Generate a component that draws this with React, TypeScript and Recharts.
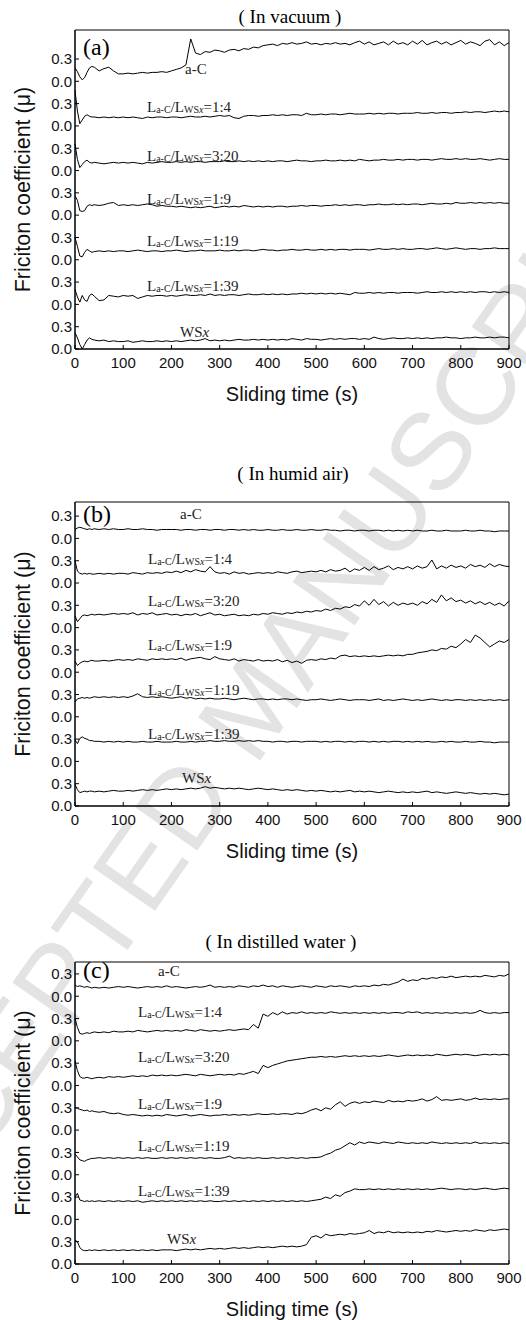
import React from "react";
import { LineChart, Line, XAxis, YAxis, ReferenceArea } from "recharts";

// Sliding time (s)
const T = [0,5,10,15,20,25,30,35,40,50,60,70,80,90,100,110,120,130,140,150,160,170,180,190,200,210,220,230,240,250,260,270,280,290,300,310,320,330,340,350,360,370,380,390,400,410,420,430,440,450,460,470,480,490,500,510,520,530,540,550,560,570,580,590,600,610,620,630,640,650,660,670,680,690,700,710,720,730,740,750,760,770,780,790,800,810,820,830,840,850,860,870,880,890,900];

const X_TICKS = [0,100,200,300,400,500,600,700,800,900];
const Y_TICKS = [0,0.3,0.6,0.9,1.2,1.5,1.8,2.1,2.4,2.7,3.0,3.3,3.6,3.9];
const BAND = 0.6;

const TRACE_NAMES = ["a-C", "1:4", "3:20", "1:9", "1:19", "1:39", "WSx"];
const PANEL_TITLES = ["( In vacuum )", "( In humid air)", "( In distilled water )"];
const PANEL_TAGS = ["(a)", "(b)", "(c)"];
const WATERMARK = "ACCEPTED MANUSCRIPT";

// ---- (a) In vacuum ----
const vacAC = [0.18,0.13,0.06,0.02,0.05,0.12,0.18,0.20,0.19,
0.14,0.17,0.19,0.14,0.10,
0.10,0.11,0.10,0.11,0.12,0.11,0.12,0.12,0.13,0.12,
0.14,0.16,0.18,0.22,0.57,0.38,0.36,0.40,0.39,0.42,
0.41,0.39,0.42,0.43,0.41,0.44,0.43,0.46,0.45,0.48,
0.49,0.50,0.48,0.51,0.50,0.52,0.50,0.51,0.53,0.50,
0.51,0.49,0.51,0.50,0.52,0.50,0.51,0.49,0.52,0.54,
0.50,0.53,0.49,0.51,0.53,0.49,0.54,0.50,0.52,0.49,
0.54,0.50,0.55,0.49,0.52,0.54,0.50,0.53,0.49,0.52,
0.55,0.50,0.53,0.51,0.48,0.54,0.56,0.49,0.53,0.48,
0.52];
const vac14 = [0.48,0.20,0.03,0.08,0.13,0.15,0.13,0.12,0.12,
0.11,0.12,0.11,0.12,0.11,
0.12,0.11,0.12,0.11,0.10,0.12,0.11,0.12,0.12,0.11,
0.12,0.12,0.11,0.12,0.13,0.12,0.12,0.13,0.12,0.13,
0.14,0.13,0.14,0.11,0.10,0.13,0.14,0.14,0.13,0.14,
0.14,0.15,0.14,0.15,0.14,0.15,0.15,0.14,0.17,0.15,
0.15,0.16,0.15,0.16,0.16,0.15,0.16,0.17,0.16,0.16,
0.16,0.17,0.16,0.17,0.16,0.17,0.17,0.16,0.17,0.17,
0.17,0.18,0.17,0.17,0.18,0.17,0.18,0.18,0.17,0.18,
0.18,0.19,0.18,0.19,0.19,0.18,0.19,0.20,0.19,0.20,
0.19];
const vac320 = [0.36,0.15,0.04,0.08,0.12,0.14,0.11,0.10,0.11,
0.10,0.09,0.10,0.11,0.10,
0.11,0.10,0.11,0.10,0.09,0.11,0.10,0.11,0.12,0.11,
0.11,0.12,0.11,0.12,0.11,0.12,0.12,0.11,0.12,0.12,
0.12,0.13,0.12,0.12,0.13,0.12,0.13,0.12,0.13,0.12,
0.13,0.12,0.13,0.13,0.12,0.13,0.14,0.13,0.13,0.12,
0.13,0.13,0.14,0.13,0.13,0.14,0.13,0.14,0.13,0.15,
0.14,0.13,0.14,0.14,0.15,0.14,0.14,0.15,0.14,0.15,
0.15,0.14,0.15,0.15,0.14,0.15,0.16,0.15,0.15,0.16,
0.15,0.16,0.15,0.15,0.16,0.15,0.14,0.15,0.16,0.15,
0.15];
const vac19 = [0.26,0.20,0.06,0.05,0.06,0.12,0.14,0.13,0.14,
0.13,0.14,0.16,0.17,0.13,
0.14,0.13,0.14,0.13,0.14,0.15,0.14,0.12,0.13,0.12,
0.12,0.11,0.12,0.11,0.10,0.11,0.10,0.11,0.12,0.10,
0.11,0.12,0.11,0.12,0.11,0.13,0.12,0.11,0.12,0.11,
0.12,0.11,0.12,0.12,0.11,0.12,0.12,0.13,0.12,0.13,
0.13,0.12,0.13,0.13,0.14,0.13,0.14,0.13,0.14,0.14,
0.13,0.14,0.14,0.15,0.14,0.14,0.15,0.14,0.15,0.14,
0.15,0.15,0.14,0.15,0.16,0.15,0.15,0.16,0.15,0.17,
0.16,0.16,0.17,0.16,0.17,0.16,0.17,0.16,0.17,0.16,
0.16];
const vac119 = [0.30,0.18,0.05,0.04,0.10,0.14,0.12,0.10,0.11,
0.12,0.11,0.12,0.11,0.12,
0.12,0.11,0.12,0.13,0.12,0.11,0.12,0.12,0.11,0.12,
0.12,0.13,0.12,0.11,0.12,0.12,0.13,0.12,0.12,0.12,
0.13,0.12,0.12,0.13,0.12,0.13,0.13,0.12,0.13,0.14,
0.13,0.13,0.12,0.13,0.13,0.14,0.13,0.13,0.14,0.13,
0.13,0.14,0.13,0.14,0.13,0.14,0.14,0.13,0.14,0.14,
0.14,0.13,0.14,0.15,0.14,0.14,0.15,0.14,0.15,0.14,
0.14,0.15,0.15,0.14,0.15,0.16,0.15,0.14,0.15,0.16,
0.15,0.14,0.15,0.15,0.14,0.15,0.15,0.16,0.15,0.15,
0.15];
const vac139 = [0.20,0.10,0.03,0.12,0.06,0.04,0.12,0.14,0.11,
0.05,0.06,0.12,0.11,0.10,
0.12,0.11,0.12,0.08,0.10,0.12,0.11,0.12,0.12,0.11,
0.12,0.11,0.12,0.13,0.12,0.12,0.13,0.12,0.14,0.12,
0.13,0.12,0.13,0.13,0.12,0.13,0.14,0.13,0.13,0.14,
0.13,0.14,0.13,0.14,0.13,0.14,0.14,0.15,0.14,0.15,
0.14,0.15,0.14,0.15,0.14,0.15,0.14,0.13,0.16,0.15,
0.15,0.16,0.15,0.16,0.15,0.16,0.16,0.15,0.16,0.16,
0.16,0.15,0.16,0.17,0.16,0.16,0.17,0.16,0.17,0.16,
0.17,0.16,0.17,0.16,0.17,0.17,0.16,0.17,0.16,0.17,
0.16];
const vacWS = [0.22,0.15,0.06,0.00,0.06,0.12,0.15,0.13,0.12,
0.11,0.12,0.10,0.11,0.10,
0.10,0.11,0.09,0.10,0.11,0.10,0.10,0.11,0.10,0.11,
0.10,0.11,0.10,0.11,0.12,0.11,0.12,0.14,0.11,0.12,
0.11,0.12,0.11,0.12,0.13,0.12,0.12,0.13,0.12,0.13,
0.12,0.13,0.12,0.13,0.12,0.14,0.13,0.12,0.14,0.13,
0.13,0.12,0.13,0.14,0.13,0.14,0.13,0.14,0.14,0.13,
0.14,0.13,0.16,0.14,0.13,0.14,0.15,0.14,0.14,0.15,
0.14,0.15,0.14,0.15,0.14,0.15,0.15,0.16,0.15,0.15,
0.14,0.15,0.15,0.16,0.15,0.15,0.16,0.15,0.16,0.16,
0.15];

// ---- (b) In humid air ----
const humAC = [0.12,0.14,0.15,0.14,0.13,0.12,0.13,0.12,0.13,
0.12,0.13,0.12,0.13,0.12,
0.12,0.13,0.12,0.12,0.13,0.12,0.12,0.11,0.12,0.12,
0.12,0.12,0.11,0.12,0.12,0.11,0.12,0.12,0.11,0.12,
0.12,0.11,0.12,0.12,0.11,0.12,0.11,0.12,0.11,0.11,
0.12,0.11,0.11,0.12,0.11,0.11,0.12,0.11,0.11,0.12,
0.11,0.11,0.12,0.11,0.11,0.10,0.11,0.11,0.10,0.11,
0.11,0.10,0.11,0.11,0.10,0.11,0.10,0.11,0.10,0.11,
0.10,0.11,0.10,0.10,0.11,0.10,0.10,0.11,0.10,0.10,
0.10,0.11,0.10,0.10,0.11,0.10,0.10,0.09,0.10,0.10,
0.10];
const hum14 = [0.30,0.16,0.13,0.12,0.13,0.12,0.13,0.12,0.12,
0.13,0.12,0.13,0.12,0.13,
0.13,0.12,0.14,0.13,0.12,0.14,0.13,0.14,0.13,0.15,
0.14,0.16,0.14,0.17,0.15,0.18,0.16,0.15,0.22,0.15,
0.13,0.14,0.12,0.15,0.13,0.14,0.12,0.13,0.14,0.13,
0.14,0.13,0.15,0.14,0.13,0.15,0.16,0.14,0.15,0.16,
0.15,0.17,0.15,0.18,0.16,0.17,0.20,0.15,0.19,0.17,
0.21,0.17,0.22,0.18,0.20,0.23,0.18,0.21,0.19,0.22,
0.19,0.23,0.20,0.22,0.31,0.19,0.23,0.20,0.24,0.21,
0.23,0.20,0.25,0.22,0.24,0.21,0.26,0.22,0.25,0.23,
0.22];
const hum320 = [0.16,0.08,0.12,0.16,0.17,0.16,0.17,0.18,0.17,
0.18,0.17,0.18,0.19,0.18,
0.19,0.18,0.20,0.17,0.19,0.18,0.20,0.17,0.18,0.19,
0.17,0.18,0.16,0.18,0.17,0.19,0.16,0.18,0.20,0.17,
0.18,0.16,0.17,0.18,0.16,0.17,0.16,0.18,0.17,0.19,
0.18,0.20,0.19,0.18,0.20,0.19,0.21,0.20,0.22,0.21,
0.23,0.22,0.25,0.23,0.26,0.25,0.28,0.27,0.31,0.29,
0.36,0.30,0.38,0.31,0.35,0.29,0.34,0.30,0.33,0.31,
0.33,0.30,0.35,0.32,0.38,0.34,0.44,0.36,0.40,0.35,
0.37,0.33,0.36,0.32,0.35,0.31,0.34,0.30,0.33,0.29,
0.36];
const hum19 = [0.15,0.09,0.12,0.14,0.15,0.14,0.15,0.16,0.15,
0.15,0.16,0.15,0.16,0.17,
0.16,0.17,0.16,0.18,0.17,0.16,0.18,0.17,0.18,0.17,
0.18,0.17,0.19,0.16,0.18,0.19,0.20,0.18,0.17,0.21,
0.18,0.17,0.16,0.18,0.15,0.17,0.16,0.15,0.17,0.15,
0.16,0.15,0.17,0.14,0.16,0.13,0.15,0.12,0.16,0.17,
0.16,0.18,0.17,0.19,0.18,0.22,0.23,0.21,0.22,0.21,
0.22,0.21,0.22,0.21,0.22,0.23,0.22,0.23,0.22,0.24,
0.24,0.26,0.27,0.28,0.30,0.29,0.32,0.31,0.35,0.33,
0.38,0.44,0.40,0.50,0.46,0.40,0.34,0.38,0.42,0.40,
0.44];
const hum119 = [0.20,0.24,0.25,0.26,0.25,0.26,0.25,0.26,0.27,
0.26,0.27,0.26,0.27,0.26,
0.27,0.26,0.28,0.31,0.27,0.26,0.27,0.26,0.27,0.26,
0.25,0.26,0.27,0.25,0.26,0.24,0.25,0.24,0.25,0.24,
0.24,0.25,0.24,0.23,0.24,0.25,0.24,0.23,0.24,0.24,
0.23,0.24,0.23,0.24,0.24,0.23,0.24,0.23,0.22,0.23,
0.23,0.24,0.23,0.22,0.23,0.24,0.23,0.22,0.23,0.23,
0.23,0.22,0.23,0.24,0.22,0.23,0.22,0.23,0.24,0.23,
0.22,0.23,0.22,0.23,0.24,0.23,0.22,0.23,0.22,0.23,
0.23,0.22,0.23,0.22,0.23,0.22,0.23,0.22,0.23,0.22,
0.23];
const hum139 = [0.29,0.24,0.31,0.33,0.31,0.30,0.28,0.28,0.27,
0.27,0.26,0.27,0.26,0.27,
0.26,0.27,0.26,0.26,0.27,0.26,0.26,0.27,0.26,0.26,
0.26,0.27,0.26,0.26,0.27,0.26,0.27,0.27,0.28,0.27,
0.27,0.28,0.27,0.27,0.28,0.27,0.28,0.27,0.28,0.27,
0.27,0.26,0.27,0.27,0.26,0.27,0.27,0.26,0.27,0.27,
0.27,0.26,0.27,0.26,0.27,0.27,0.26,0.27,0.26,0.27,
0.27,0.26,0.27,0.26,0.27,0.26,0.27,0.27,0.26,0.27,
0.26,0.27,0.26,0.27,0.26,0.26,0.27,0.26,0.27,0.26,
0.26,0.27,0.26,0.26,0.27,0.26,0.26,0.25,0.26,0.26,
0.26];
const humWS = [0.29,0.22,0.18,0.19,0.20,0.19,0.20,0.20,0.19,
0.20,0.19,0.20,0.21,0.20,
0.20,0.21,0.20,0.21,0.22,0.21,0.22,0.21,0.22,0.23,
0.22,0.23,0.22,0.23,0.24,0.23,0.24,0.26,0.24,0.25,
0.24,0.23,0.24,0.23,0.24,0.23,0.22,0.23,0.24,0.23,
0.22,0.23,0.22,0.21,0.22,0.21,0.22,0.21,0.20,0.21,
0.20,0.21,0.20,0.19,0.20,0.19,0.20,0.21,0.19,0.20,
0.19,0.20,0.19,0.18,0.19,0.20,0.19,0.18,0.19,0.18,
0.19,0.18,0.19,0.20,0.18,0.19,0.18,0.17,0.18,0.19,
0.18,0.17,0.18,0.17,0.16,0.17,0.16,0.17,0.16,0.15,
0.16];

// ---- (c) In distilled water ----
const watAC = [0.15,0.13,0.14,0.13,0.12,0.13,0.12,0.11,0.12,
0.11,0.12,0.11,0.12,0.13,
0.12,0.13,0.12,0.11,0.12,0.13,0.12,0.13,0.12,0.14,
0.12,0.13,0.12,0.11,0.12,0.13,0.12,0.13,0.15,0.12,
0.13,0.12,0.13,0.12,0.14,0.13,0.12,0.14,0.13,0.15,
0.13,0.14,0.12,0.14,0.13,0.12,0.13,0.14,0.13,0.12,
0.14,0.13,0.12,0.14,0.13,0.14,0.13,0.12,0.14,0.13,
0.14,0.13,0.15,0.14,0.16,0.15,0.17,0.19,0.23,0.20,
0.22,0.21,0.24,0.23,0.25,0.24,0.26,0.25,0.27,0.25,
0.26,0.27,0.26,0.27,0.26,0.28,0.27,0.26,0.28,0.27,
0.30];
const wat14 = [0.30,0.18,0.10,0.09,0.10,0.11,0.10,0.11,0.12,
0.11,0.12,0.11,0.13,0.12,
0.12,0.13,0.12,0.14,0.13,0.12,0.13,0.14,0.13,0.14,
0.13,0.14,0.13,0.15,0.14,0.13,0.15,0.14,0.13,0.14,
0.13,0.14,0.15,0.14,0.15,0.16,0.15,0.22,0.17,0.36,
0.33,0.38,0.35,0.39,0.36,0.38,0.37,0.39,0.37,0.38,
0.37,0.38,0.37,0.39,0.38,0.37,0.38,0.37,0.38,0.37,
0.38,0.37,0.38,0.37,0.38,0.37,0.38,0.38,0.37,0.39,
0.38,0.39,0.37,0.38,0.37,0.38,0.37,0.38,0.37,0.38,
0.37,0.38,0.37,0.38,0.41,0.38,0.37,0.38,0.37,0.38,
0.38];
const wat320 = [0.33,0.20,0.12,0.10,0.10,0.11,0.10,0.09,0.10,
0.11,0.10,0.12,0.11,0.12,
0.11,0.12,0.13,0.12,0.13,0.12,0.14,0.13,0.14,0.13,
0.14,0.13,0.14,0.15,0.14,0.13,0.15,0.14,0.13,0.14,
0.15,0.14,0.15,0.14,0.16,0.15,0.17,0.19,0.16,0.27,
0.24,0.27,0.29,0.31,0.33,0.34,0.35,0.36,0.37,0.38,
0.38,0.39,0.38,0.39,0.38,0.39,0.40,0.39,0.40,0.39,
0.40,0.39,0.40,0.39,0.40,0.41,0.40,0.39,0.40,0.41,
0.40,0.41,0.40,0.41,0.40,0.42,0.41,0.40,0.41,0.42,
0.41,0.42,0.41,0.40,0.41,0.42,0.41,0.42,0.41,0.42,
0.41];
const wat19 = [0.31,0.29,0.28,0.27,0.26,0.27,0.25,0.26,0.25,
0.24,0.25,0.23,0.22,0.23,
0.21,0.20,0.21,0.20,0.19,0.20,0.19,0.20,0.19,0.21,
0.20,0.19,0.20,0.21,0.19,0.20,0.21,0.20,0.19,0.20,
0.20,0.21,0.20,0.21,0.20,0.21,0.20,0.21,0.22,0.21,
0.21,0.22,0.21,0.22,0.22,0.21,0.23,0.22,0.24,0.27,
0.29,0.26,0.30,0.28,0.34,0.38,0.32,0.36,0.38,0.36,
0.38,0.37,0.39,0.38,0.37,0.40,0.38,0.39,0.38,0.40,
0.39,0.40,0.42,0.39,0.41,0.45,0.40,0.41,0.40,0.41,
0.42,0.40,0.41,0.43,0.41,0.42,0.41,0.42,0.41,0.42,
0.42];
const wat119 = [0.28,0.24,0.20,0.19,0.18,0.20,0.21,0.22,0.22,
0.23,0.22,0.23,0.22,0.23,
0.22,0.23,0.22,0.23,0.22,0.23,0.22,0.22,0.23,0.22,
0.23,0.22,0.23,0.22,0.23,0.22,0.23,0.22,0.23,0.22,
0.22,0.23,0.25,0.22,0.23,0.22,0.23,0.22,0.23,0.22,
0.22,0.23,0.22,0.23,0.22,0.23,0.22,0.23,0.22,0.23,
0.23,0.24,0.27,0.29,0.33,0.35,0.39,0.43,0.40,0.44,
0.42,0.44,0.43,0.42,0.44,0.43,0.42,0.44,0.43,0.42,
0.43,0.42,0.43,0.42,0.44,0.43,0.42,0.43,0.42,0.43,
0.42,0.43,0.42,0.44,0.42,0.43,0.42,0.43,0.42,0.43,
0.42];
const wat139 = [0.30,0.35,0.26,0.25,0.24,0.25,0.24,0.25,0.24,
0.25,0.24,0.25,0.24,0.25,
0.24,0.25,0.24,0.25,0.23,0.24,0.25,0.24,0.25,0.24,
0.25,0.24,0.25,0.24,0.25,0.24,0.25,0.24,0.25,0.24,
0.24,0.25,0.24,0.25,0.24,0.25,0.24,0.25,0.24,0.25,
0.24,0.25,0.24,0.25,0.24,0.25,0.24,0.25,0.24,0.25,
0.26,0.27,0.30,0.28,0.33,0.31,0.36,0.38,0.41,0.40,
0.40,0.41,0.40,0.41,0.40,0.41,0.40,0.41,0.40,0.41,
0.40,0.41,0.40,0.41,0.40,0.41,0.42,0.41,0.40,0.41,
0.41,0.40,0.41,0.40,0.41,0.42,0.41,0.40,0.41,0.42,
0.41];
const watWS = [0.32,0.30,0.22,0.19,0.18,0.18,0.19,0.18,0.19,
0.18,0.19,0.18,0.19,0.18,
0.19,0.18,0.19,0.18,0.19,0.18,0.19,0.18,0.19,0.19,
0.19,0.18,0.19,0.20,0.19,0.20,0.19,0.20,0.21,0.20,
0.21,0.20,0.21,0.22,0.21,0.22,0.21,0.22,0.23,0.22,
0.23,0.22,0.23,0.24,0.23,0.24,0.23,0.24,0.26,0.36,
0.38,0.35,0.40,0.38,0.39,0.40,0.39,0.41,0.40,0.41,
0.42,0.45,0.41,0.43,0.42,0.44,0.42,0.43,0.42,0.43,
0.42,0.43,0.42,0.44,0.43,0.45,0.44,0.43,0.44,0.45,
0.44,0.45,0.44,0.46,0.45,0.44,0.46,0.45,0.46,0.47,
0.46];

const VACUUM = [vacAC, vac14, vac320, vac19, vac119, vac139, vacWS];
const HUMID = [humAC, hum14, hum320, hum19, hum119, hum139, humWS];
const WATER = [watAC, wat14, wat320, wat19, wat119, wat139, watWS];

// layout (pixels)
const PANELS = [
  { series: VACUUM, plotTop: 30, plotH: 319, yMax: 4.29,
    titleX: 290, titleY: 23, tagY: 55,
    labels: [[185, 74], [147, 112], [147, 161], [147, 204], [147, 246], [147, 291], [180, 337]] },
  { series: HUMID, plotTop: 502, plotH: 304, yMax: 4.09,
    titleX: 293, titleY: 480, tagY: 522,
    labels: [[180, 519], [148, 564], [148, 606], [148, 650], [148, 695], [148, 739], [182, 783]] },
  { series: WATER, plotTop: 962, plotH: 302, yMax: 4.06,
    titleX: 281, titleY: 948, tagY: 978,
    labels: [[158, 976], [138, 1017], [138, 1062], [138, 1109], [138, 1151], [138, 1196], [167, 1244]] },
];

const SANS = "'Liberation Sans', Arial, sans-serif";
const SERIF = "'Liberation Serif', 'Times New Roman', serif";

function buildRows(series: number[][]) {
  const n = series.length;
  return T.map((t, i) => {
    const row: Record<string, number> = { t };
    series.forEach((s, k) => {
      row["s" + k] = s[i] + BAND * (n - 1 - k);
    });
    return row;
  });
}

const fmtY = (v: number) => (Math.round(v / 0.3) % 2 === 0 ? "0.0" : "0.3");

function Panel({ cfg }: { cfg: any }) {
  const rows = buildRows(cfg.series);
  const H = cfg.plotH + 40;
  return (
    <div style={{ position: "absolute", left: 0, top: cfg.plotTop - 10, width: 526, height: H }}>
      <LineChart width={526} height={H} data={rows} margin={{ top: 10, right: 17, bottom: 0, left: 0 }}>
        <XAxis
          type="number"
          dataKey="t"
          domain={[0, 900]}
          ticks={X_TICKS}
          interval={0}
          height={30}
          tickSize={-4}
          tickMargin={12}
          axisLine={{ stroke: "#000" }}
          tickLine={{ stroke: "#000" }}
          tick={{ fill: "#111", fontSize: 15, fontFamily: SANS }}
        />
        <YAxis
          type="number"
          domain={[0, cfg.yMax]}
          ticks={Y_TICKS}
          interval={0}
          width={75}
          tickSize={-4}
          tickMargin={7}
          tickFormatter={fmtY}
          axisLine={{ stroke: "#000" }}
          tickLine={{ stroke: "#000" }}
          tick={{ fill: "#111", fontSize: 15, fontFamily: SANS }}
          allowDataOverflow
        />
        <ReferenceArea x1={0} x2={900} y1={0} y2={cfg.yMax} fill="none" fillOpacity={0} stroke="#000" strokeWidth={1} ifOverflow="visible" />
        {cfg.series.map((_: number[], k: number) => (
          <Line
            key={k}
            type="linear"
            dataKey={"s" + k}
            stroke="#000"
            strokeWidth={1}
            dot={false}
            activeDot={false}
            isAnimationActive={false}
          />
        ))}
      </LineChart>
    </div>
  );
}

function TraceLabel({ x, y, name }: { x: number; y: number; name: string }) {
  if (name === "a-C") {
    return <text x={x} y={y} fontFamily={SERIF} fontSize={15} fill="#222">a-C</text>;
  }
  if (name === "WSx") {
    return (
      <text x={x} y={y} fontFamily={SERIF} fontSize={15} fill="#222">WS<tspan fontStyle="italic">x</tspan></text>
    );
  }
  return (
    <text x={x} y={y} fontFamily={SERIF} fontSize={15} fill="#222">L<tspan fontSize={10} dy={1}>a-C</tspan><tspan dy={-1}>/L</tspan><tspan fontSize={10} dy={1}>WS</tspan><tspan fontSize={10} fontStyle="italic">x</tspan><tspan dy={-1}>={name}</tspan></text>
  );
}

function Watermark() {
  return (
    <svg width={526} height={1320} style={{ position: "absolute", left: 0, top: 0, pointerEvents: "none" }}>
      <text transform="translate(283, 728) rotate(-55)" textAnchor="middle" fontFamily={SANS} fontSize={110} fill="#e3e3e3">{WATERMARK}</text>
    </svg>
  );
}

function Overlay() {
  return (
    <svg width={526} height={1320} style={{ position: "absolute", left: 0, top: 0, pointerEvents: "none" }}>
      {PANELS.map((p, i) => {
        const bottom = p.plotTop + p.plotH;
        const yLabelCenter = p.plotTop + p.plotH / 2;
        return (
          <g key={i}>
            <text x={p.titleX} y={p.titleY} textAnchor="middle" fontFamily={SERIF} fontSize={19} fill="#000">{PANEL_TITLES[i]}</text>
            <text x={83} y={p.tagY} fontFamily={SERIF} fontSize={24} fill="#000">{PANEL_TAGS[i]}</text>
            <text transform={`translate(29.5, ${yLabelCenter}) rotate(-90)`} textAnchor="middle" fontFamily={SANS} fontSize={21.5} fill="#111">Friciton coefficient (μ)</text>
            <text x={292} y={bottom + 52} textAnchor="middle" fontFamily={SANS} fontSize={20} fill="#111">Sliding time (s)</text>
            {p.labels.map((pos, k) => (
              <TraceLabel key={k} x={pos[0]} y={pos[1]} name={TRACE_NAMES[k]} />
            ))}
          </g>
        );
      })}
    </svg>
  );
}

export default function App() {
  return (
    <div style={{ position: "absolute", left: 0, top: 0, width: 526, height: 1320, background: "#fff", overflow: "hidden" }}>
      <Watermark />
      {PANELS.map((p, i) => (
        <Panel key={i} cfg={p} />
      ))}
      <Overlay />
    </div>
  );
}
